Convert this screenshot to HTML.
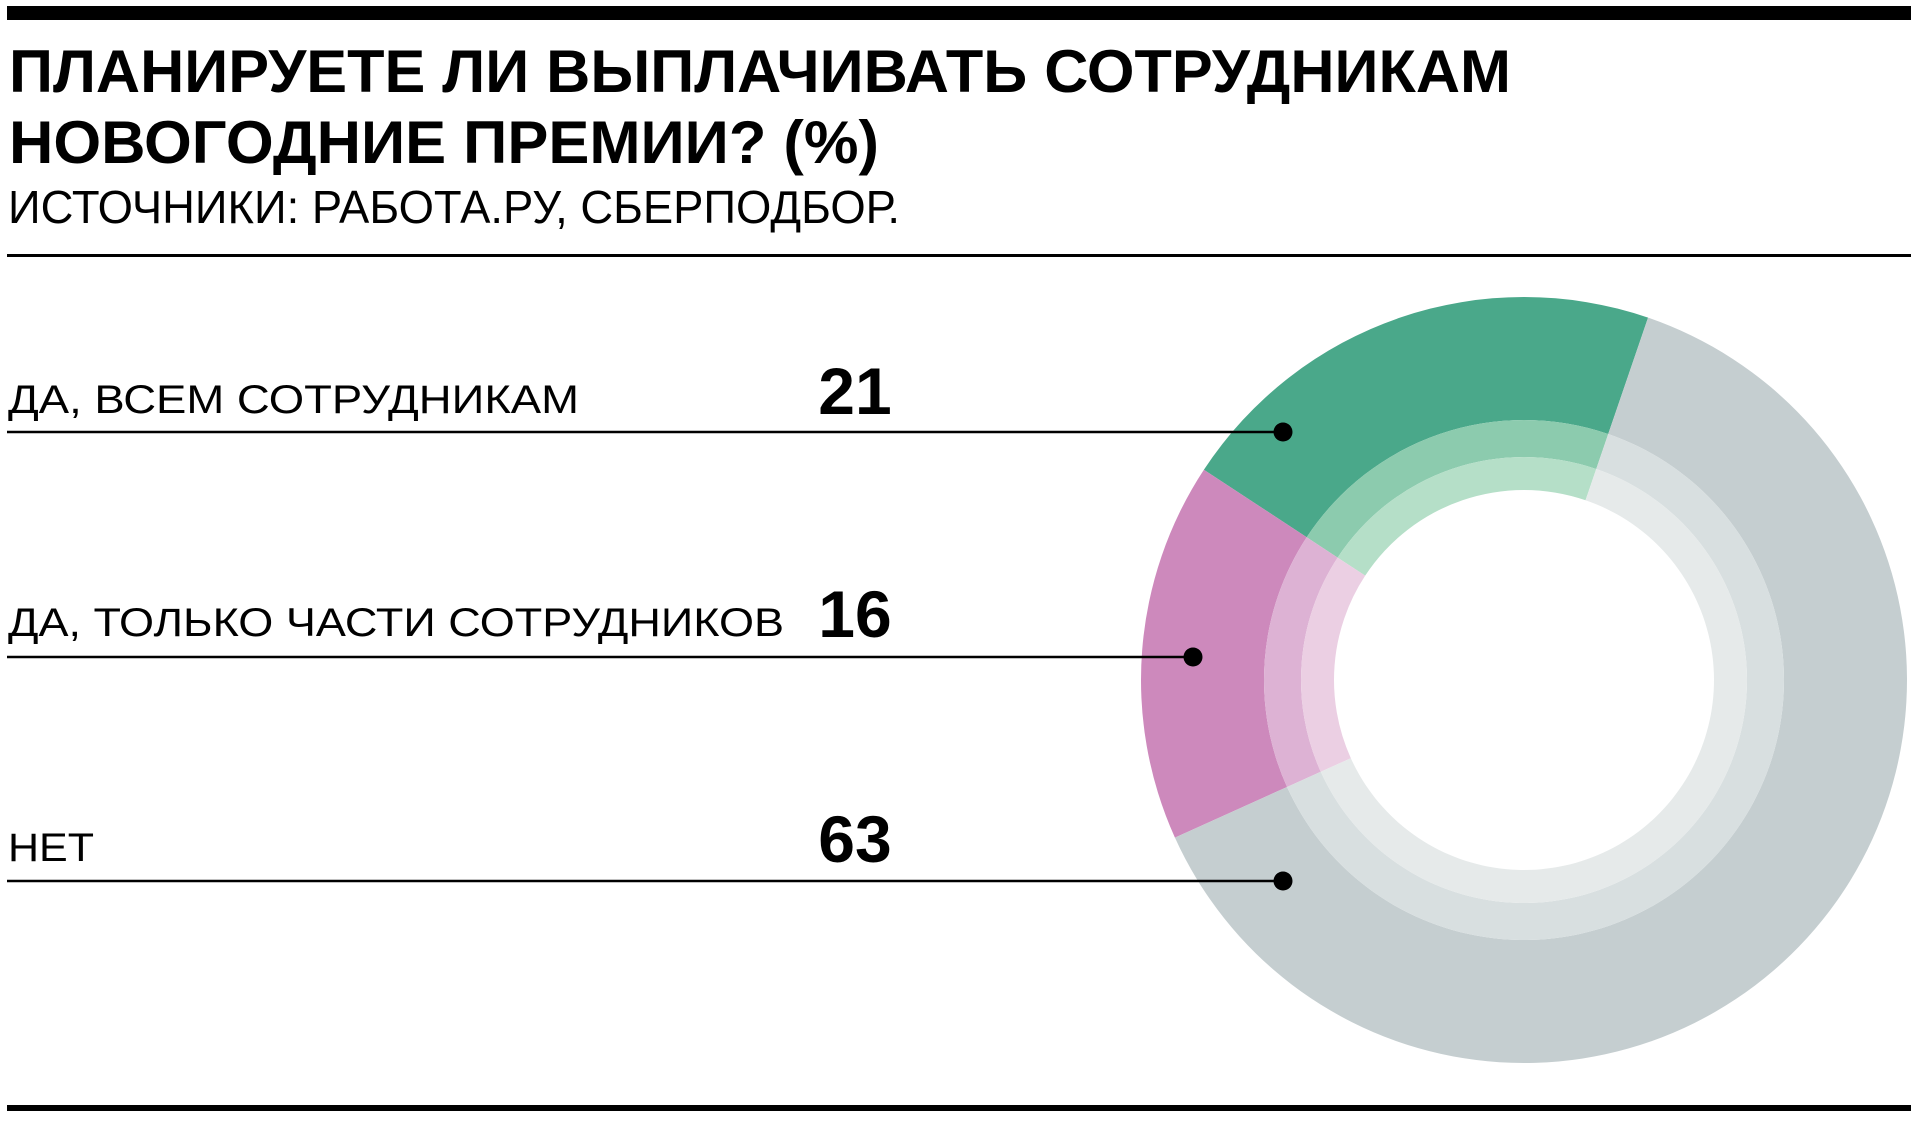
<!DOCTYPE html>
<html><head><meta charset="utf-8"><style>
html,body{margin:0;padding:0;background:#fff;width:1920px;height:1125px;overflow:hidden}
svg{display:block}
text{font-family:"Liberation Sans","Noto Sans CJK SC",sans-serif}
</style></head><body>
<svg id="chart" width="1920" height="1125" viewBox="0 0 1920 1125">
<rect x="7" y="6" width="1904" height="14" fill="#000"/>
<text x="9" y="92" font-size="60" font-weight="bold" textLength="1502" lengthAdjust="spacingAndGlyphs">ПЛАНИРУЕТЕ ЛИ ВЫПЛАЧИВАТЬ СОТРУДНИКАМ</text>
<text x="9" y="163" font-size="60" font-weight="bold" textLength="870" lengthAdjust="spacingAndGlyphs">НОВОГОДНИЕ ПРЕМИИ? (%)</text>
<text x="8" y="223" font-size="46" textLength="892" lengthAdjust="spacingAndGlyphs">ИСТОЧНИКИ: РАБОТА.РУ, СБЕРПОДБОР.</text>
<rect x="7" y="254" width="1904" height="3" fill="#000"/>
<rect x="7" y="1105" width="1904" height="6" fill="#000"/>
<g id="slices"></g>
<g id="labels"></g>
</svg>
<script>
const categories = ["ДА, ВСЕМ СОТРУДНИКАМ", "ДА, ТОЛЬКО ЧАСТИ СОТРУДНИКОВ", "НЕТ"];
const values = [21, 16, 63];
const valueLabels = ["21", "16", "63"];
const sliceNames = ["slice-all-employees", "slice-some-employees", "slice-no"];
const NS = "http://www.w3.org/2000/svg";
const cx = 1524, cy = 680;
const startDeg = 18.9;
const bands = [[260, 383, 0], [223, 260, 1], [190, 223, 2]];
const palettes = [["#4aa88a", "#8ccbae", "#b5dfc8"], ["#cd89bc", "#ddb2d4", "#ebcfe3"], ["#c5ced0", "#d8dfe0", "#e6eaea"]];
const total = values.reduce((a, b) => a + b, 0);
function angleOf(v) { return v / total * 360; }
function pt(r, deg) { const a = deg * Math.PI / 180; return [cx + r * Math.sin(a), cy - r * Math.cos(a)]; }
function arcPath(r0, r1, a0, a1) {
  // a0 > a1 (counterclockwise)
  const large = (a0 - a1) > 180 ? 1 : 0;
  const p1 = pt(r1, a0), p2 = pt(r1, a1), p3 = pt(r0, a1), p4 = pt(r0, a0);
  return `M${p1[0]},${p1[1]} A${r1},${r1} 0 ${large} 0 ${p2[0]},${p2[1]} L${p3[0]},${p3[1]} A${r0},${r0} 0 ${large} 1 ${p4[0]},${p4[1]} Z`;
}
const gS = document.getElementById("slices");
let cur = startDeg;
const mids = [];
values.forEach((v, i) => {
  const a0 = cur, a1 = cur - angleOf(v);
  mids.push([a0, a1]);
  bands.forEach(b => {
    const p = document.createElementNS(NS, "path");
    p.setAttribute("d", arcPath(b[0], b[1], a0, a1));
    p.setAttribute("fill", palettes[i][b[2]]);
    
    
    gS.appendChild(p);
  });
  cur = a1;
});
// labels and leader lines
const labelBase = [413, 636, 861];
const lineY = [432, 657, 881];
const dotX = [1283, 1193, 1283];
const gL = document.getElementById("labels");
categories.forEach((c, i) => {
  const t = document.createElementNS(NS, "text");
  t.setAttribute("x", 8); t.setAttribute("y", labelBase[i]);
  t.setAttribute("font-size", "40");
  t.textContent = c;
  
  
  gL.appendChild(t);
  const n = document.createElementNS(NS, "text");
  n.setAttribute("x", 855); n.setAttribute("y", labelBase[i] + 1);
  n.setAttribute("font-size", "66"); n.setAttribute("font-weight", "bold");
  n.setAttribute("text-anchor", "middle");
  n.textContent = valueLabels[i];
  
  
  gL.appendChild(n);
  const l = document.createElementNS(NS, "line");
  l.setAttribute("x1", 7); l.setAttribute("x2", dotX[i]);
  l.setAttribute("y1", lineY[i]); l.setAttribute("y2", lineY[i]);
  l.setAttribute("stroke", "#000"); l.setAttribute("stroke-width", "2.5");
  
  
  gL.appendChild(l);
  const d = document.createElementNS(NS, "circle");
  d.setAttribute("cx", dotX[i]); d.setAttribute("cy", lineY[i]); d.setAttribute("r", 9.5);
  d.setAttribute("fill", "#000");
  
  
  gL.appendChild(d);
});
// fit category labels to measured widths
const labelWidths = [571, 776, 86];
[...gL.querySelectorAll('text[font-size="40"]')].forEach((t, i) => {
  t.setAttribute("textLength", labelWidths[i]);
  t.setAttribute("lengthAdjust", "spacingAndGlyphs");
});
</script>
</body></html>
